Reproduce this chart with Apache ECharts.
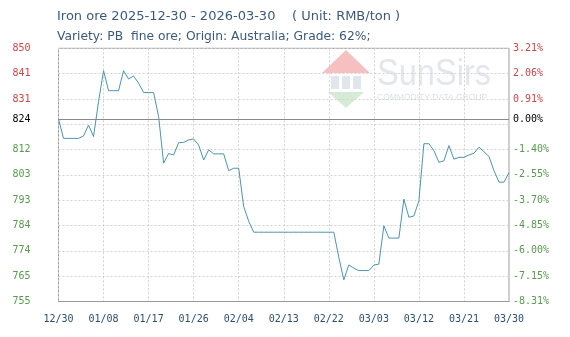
<!DOCTYPE html>
<html>
<head>
<meta charset="utf-8">
<script src="https://cdn.jsdelivr.net/npm/echarts@6/dist/echarts.min.js"></script>
<style>
html,body{margin:0;padding:0;background:#fff;}
#c{width:570px;height:337px;}
</style>
</head>
<body>
<div id="c"></div>
<script>
// ---- data ----
const categories = [
'12/30','12/31','01/01','01/02','01/03','01/04','01/05','01/06','01/07','01/08',
'01/09','01/10','01/11','01/12','01/13','01/14','01/15','01/16','01/17','01/18',
'01/19','01/20','01/21','01/22','01/23','01/24','01/25','01/26','01/27','01/28',
'01/29','01/30','01/31','02/01','02/02','02/03','02/04','02/05','02/06','02/07',
'02/08','02/09','02/10','02/11','02/12','02/13','02/14','02/15','02/16','02/17',
'02/18','02/19','02/20','02/21','02/22','02/23','02/24','02/25','02/26','02/27',
'02/28','03/01','03/02','03/03','03/04','03/05','03/06','03/07','03/08','03/09',
'03/10','03/11','03/12','03/13','03/14','03/15','03/16','03/17','03/18','03/19',
'03/20','03/21','03/22','03/23','03/24','03/25','03/26','03/27','03/28','03/29',
'03/30'];
const prices = [
823.5,816.2,816.2,816.2,816.2,817.1,821.2,816.9,830.0,841.6,
834.1,834.1,834.1,841.6,838.5,839.6,836.9,833.4,833.4,833.4,
824.4,806.9,810.5,810.0,814.6,814.7,815.6,816.0,813.7,808.1,
811.9,810.4,810.4,810.4,804.1,805.0,805.0,790.6,785.1,781.0,
781.0,781.0,781.0,781.0,781.0,781.0,781.0,781.0,781.0,781.0,
781.0,781.0,781.0,781.0,781.0,781.0,771.6,763.1,768.7,767.5,
766.6,766.6,766.6,768.7,769.0,783.4,778.8,778.8,778.8,793.4,
786.6,787.1,792.8,814.2,814.2,811.6,807.2,807.8,813.5,808.4,
809.1,809.1,810.0,810.6,812.9,811.2,809.4,804.1,799.8,799.8,
803.4];
const baseValue = 823.5;
const baseLabelLeft = '824';
const baseLabelRight = '0.00%';
const leftLabels = ['755','765','774','784','793','803','812','','831','841','850'];
const rightLabels = ['-8.31%','-7.15%','-6.00%','-4.85%','-3.70%','-2.55%','-1.40%','','0.91%','2.06%','3.21%'];
const titleLine1 = 'Iron ore 2025-12-30 - 2026-03-30    ( Unit: RMB/ton )';
const titleLine2 = 'Variety: PB  fine ore; Origin: Australia; Grade: 62%;';

// ---- chart ----
const RED = '#c84848', GREEN = '#5a9a50', MONO = "'DejaVu Sans Mono', monospace";
const chart = echarts.init(document.getElementById('c'));
const labelColor = v => (v > baseValue ? RED : GREEN);
chart.setOption({
  animation: false,
  title: [
    {text: titleLine1, left: 52, top: 5, textStyle: {fontFamily: "'DejaVu Sans'", fontSize: 13, fontWeight: 'normal', color: '#3c5a7a'}},
    {text: titleLine2, left: 52, top: 26, textStyle: {fontFamily: "'DejaVu Sans'", fontSize: 12.3, fontWeight: 'normal', color: '#3c5a7a'}}
  ],
  graphic: [
    {type: 'group', left: 322, top: 50, silent: true, z: -1, children: [
      {type: 'polygon', shape: {points: [[0,23],[24,0],[48,23]]}, style: {fill: 'rgba(240,130,130,0.5)'}},
      {type: 'rect', shape: {x: 9, y: 26, width: 8, height: 13}, style: {fill: 'rgba(180,190,208,0.4)'}},
      {type: 'rect', shape: {x: 20, y: 26, width: 8, height: 13}, style: {fill: 'rgba(180,190,208,0.4)'}},
      {type: 'rect', shape: {x: 31, y: 26, width: 8, height: 13}, style: {fill: 'rgba(180,190,208,0.4)'}},
      {type: 'polygon', shape: {points: [[6,42],[42,42],[24,58]]}, style: {fill: 'rgba(150,205,150,0.4)'}},
      {type: 'text', x: 55, y: 6, scaleX: 0.88, style: {text: 'SunSirs', font: "37px 'Liberation Sans'", fill: 'rgba(200,207,218,0.5)'}},
      {type: 'text', x: 55, y: 43, style: {text: 'COMMODITY DATA GROUP', font: "8.5px 'Liberation Sans'", fill: 'rgba(190,198,212,0.55)'}}
    ]}
  ],
  grid: {left: 58.5, right: 61, top: 48.3, bottom: 35.5, show: true, borderColor: '#9a9a9a', borderWidth: 1},
  xAxis: {
    type: 'category', data: categories, boundaryGap: false,
    axisLine: {show: true, lineStyle: {color: '#9a9a9a'}},
    axisTick: {show: false},
    axisLabel: {interval: 8, margin: 13, fontFamily: MONO, fontSize: 10, color: '#2e4e6e'},
    splitLine: {show: true, interval: 8, lineStyle: {color: '#d2d2d2', type: [2,2]}}
  },
  yAxis: [
    {
      type: 'value', min: 755, max: 850, interval: 9.5, position: 'left',
      axisLine: {show: false}, axisTick: {show: false},
      axisLabel: {margin: 28, fontFamily: MONO, fontSize: 10, formatter: (v, i) => leftLabels[i], color: v => labelColor(v)},
      splitLine: {show: true, lineStyle: {color: '#d2d2d2', type: [2,2]}}
    },
    {
      type: 'value', min: 755, max: 850, interval: 9.5, position: 'right',
      axisLine: {show: false}, axisTick: {show: false},
      axisLabel: {margin: 4, fontFamily: MONO, fontSize: 10, formatter: (v, i) => rightLabels[i], color: v => labelColor(v)},
      splitLine: {show: false}
    }
  ],
  series: [{
    type: 'line', data: prices, showSymbol: false, symbol: 'none',
    lineStyle: {color: '#4e93ac', width: 1},
    markLine: {
      silent: true, symbol: 'none',
      lineStyle: {color: '#8a8a8a', type: 'solid', width: 1},
      data: [
        {yAxis: baseValue, label: {show: true, position: 'start', distance: 28, formatter: baseLabelLeft, fontFamily: MONO, fontSize: 10, color: '#000'}},
        {yAxis: baseValue, label: {show: true, position: 'end', distance: 4, formatter: baseLabelRight, fontFamily: MONO, fontSize: 10, color: '#000'}}
      ]
    }
  }]
});
</script>
</body>
</html>
